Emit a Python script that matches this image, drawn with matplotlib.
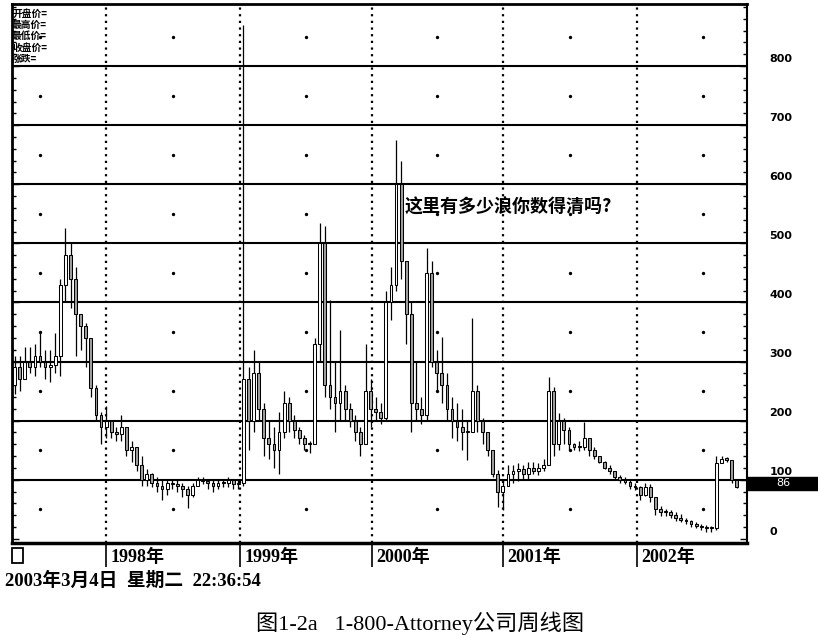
import numpy as np
import matplotlib
matplotlib.use("Agg")
import matplotlib.pyplot as plt
from matplotlib.patches import Rectangle
from matplotlib.transforms import ScaledTranslation, blended_transform_factory

plt.rcParams['font.family'] = ['DejaVu Sans', 'Noto Sans CJK SC']

# weekly bars (one bar per two weeks)
close = [290, 270, 300, 290, 310, 300, 290, 295, 310, 430,
         480, 440, 380, 360, 340, 255, 210, 190, 200, 180,
         178, 190, 150, 155, 125, 100, 110, 95, 90, 85,
         95, 92, 90, 85, 75, 90, 100, 98, 95, 90,
         95, 94, 100, 92, 95, 270, 200, 280, 220, 170,
         160, 150, 180, 230, 200, 185, 170, 160, 160, 330,
         500, 260, 240, 230, 250, 220, 200, 180, 160, 250,
         220, 215, 205, 400, 430, 600, 470, 380, 230, 220,
         210, 450, 300, 280, 260, 220, 200, 190, 180, 180,
         250, 200, 180, 150, 110, 80, 90, 110, 115, 118,
         110, 120, 115, 120, 125, 250, 160, 200, 185, 160,
         155, 155, 170, 150, 140, 130, 120, 115, 105, 100,
         96, 90, 88, 75, 88, 70, 50, 45, 45, 40,
         35, 32, 30, 25, 22, 20, 18, 18, 128, 135,
         134, 100, 88]
high = [310, 310, 325, 325, 330, 350, 320, 320, 348, 440,
        526, 500, 460, 380, 365, 340, 260, 215, 225, 200,
        190, 210, 175, 165, 150, 140, 118, 112, 105, 100,
        100, 102, 100, 95, 90, 95, 105, 104, 100, 100,
        102, 100, 104, 100, 100, 870, 290, 320, 300, 230,
        200, 190, 215, 250, 240, 210, 190, 175, 165, 340,
        534, 530, 404, 300, 353, 260, 230, 210, 190, 330,
        270, 240, 230, 420, 460, 675, 640, 470, 400, 300,
        240, 492, 470, 320, 341, 280, 240, 230, 220, 200,
        373, 260, 205, 180, 150, 117, 100, 125, 125, 128,
        125, 130, 130, 128, 135, 274, 257, 213, 205, 190,
        162, 165, 198, 170, 155, 140, 132, 125, 115, 108,
        104, 100, 95, 90, 95, 92, 70, 55, 50, 48,
        45, 42, 36, 32, 28, 25, 24, 22, 140, 140,
        138, 134, 100]
low = [245, 250, 270, 280, 275, 290, 270, 265, 280, 275,
       400, 390, 310, 320, 290, 240, 200, 160, 170, 170,
       165, 165, 140, 130, 115, 90, 90, 88, 80, 65,
       75, 85, 80, 70, 52, 70, 90, 92, 85, 80,
       85, 88, 88, 85, 85, 90, 150, 180, 200, 140,
       135, 120, 110, 170, 180, 170, 160, 150, 145, 160,
       300, 240, 220, 180, 200, 200, 190, 165, 140, 160,
       190, 200, 195, 200, 370, 420, 440, 330, 180, 200,
       195, 200, 290, 250, 230, 200, 170, 165, 150, 134,
       180, 180, 160, 140, 105, 54, 49, 90, 95, 98,
       100, 100, 110, 108, 115, 125, 140, 150, 160, 150,
       150, 148, 150, 140, 135, 128, 118, 110, 100, 95,
       92, 85, 82, 65, 72, 62, 40, 38, 38, 35,
       30, 28, 25, 20, 18, 15, 12, 12, 15, 128,
       130, 95, 86]

year_pos = [37, 89.6, 141.5, 193, 245.7]
year_labels = ['1998年', '1999年', '2000年', '2001年', '2002年']
mid_pos = [11, 63.3, 115.6, 167, 219.3, 271.6]
last_price = 86

close = np.array(close, dtype=float)
opens = np.r_[close[0] - 30, close[:-1]]
high = np.maximum(np.array(high, dtype=float), np.maximum(opens, close))
low = np.minimum(np.array(low, dtype=float), np.minimum(opens, close))
x = np.arange(len(close)) * 2 + 1

fig = plt.figure(figsize=(8.18, 6.35), dpi=100)
ax = fig.add_axes([0.0147, 0.1449, 0.8985, 0.8488])
ax.set_xlim(0, 289)
ax.set_ylim(-7, 905)

# grid
ax.hlines(range(100, 900, 100), 0, 289, color='black', lw=1.5, zorder=1)
ax.vlines(year_pos, -7, 905, color='black', lw=1.6, linestyles=(0, (1, 2)), zorder=1)
gx, gy = np.meshgrid(mid_pos, range(50, 900, 100))
ax.scatter(gx.ravel(), gy.ravel(), s=2, color='black', zorder=1)

# candles
ax.vlines(x, low, high, color='black', lw=0.9, zorder=2)
up = close >= opens
body_bot = np.minimum(opens, close)
body_h = np.maximum(np.abs(close - opens), 2)
ax.bar(x[up], body_h[up], bottom=body_bot[up], width=1.1,
       facecolor='white', edgecolor='black', lw=0.75, zorder=3)
ax.bar(x[~up], body_h[~up], bottom=body_bot[~up], width=1.1,
       facecolor='#a0a0a0', edgecolor='black', lw=0.75, zorder=3)

# axes styling
for s in ['top', 'left']:
    ax.spines[s].set_linewidth(2)
ax.spines['right'].set_linewidth(1.5)
ax.spines['bottom'].set_linewidth(2.5)

ax.set_yticks(range(0, 900, 100))
ax.set_yticks(range(0, 905, 20), minor=True)
ax.tick_params(axis='y', which='both', left=True, right=True, labelleft=False,
               labelright=True, direction='in', width=1)
ax.tick_params(axis='y', which='major', length=5, pad=16, labelsize=8)
ax.tick_params(axis='y', which='minor', length=3)
for lab in ax.get_yticklabels():
    lab.set_fontweight('bold')
    lab.set_transform(lab.get_transform() + ScaledTranslation(0, 6 / 72, fig.dpi_scale_trans))

ax.set_xticks(year_pos)
ax.set_xticklabels(year_labels, family=['Liberation Serif', 'Noto Sans CJK SC'],
                   fontsize=13, fontweight='bold', ha='left')
ax.tick_params(axis='x', direction='out', length=17, width=1.2, pad=2)
for lab in ax.get_xticklabels():
    lab.set_transform(lab.get_transform() + ScaledTranslation(3 / 72, 15 / 72, fig.dpi_scale_trans))

# last price box
bt = blended_transform_factory(ax.transAxes, ax.transData)
ax.add_patch(Rectangle((1.0, 83), 0.1, 22, transform=bt, facecolor='black',
                       edgecolor='black', clip_on=False, zorder=6))
ax.text(1.05, 94, str(last_price), transform=bt, color='white', fontsize=8,
        ha='center', va='center', zorder=7, clip_on=False)

# info lines top-left
for i, t in enumerate(['开盘价=', '最高价=', '最低价=', '收盘价=', '涨跌=']):
    ax.text(0.005, 897 - i * 19, t, fontsize=7, fontweight='bold', va='top',
            family=['Noto Sans CJK SC'])

ax.text(0.5345, 562, '这里有多少浪你数得清吗?', transform=bt, fontsize=13,
        fontweight='bold', family=['Noto Sans CJK SC'], va='center')

fig.patches.append(Rectangle((12 / 818, 1 - 563 / 635), 11 / 818, 15 / 635,
                             transform=fig.transFigure, fill=False, lw=1.3,
                             edgecolor='black'))
fig.text(5 / 818, 1 - 581 / 635, '2003年3月4日  星期二  22:36:54',
         family=['Liberation Serif', 'Noto Sans CJK SC'], fontsize=13.5,
         fontweight='bold', va='center')
fig.text(420 / 818, 1 - 623 / 635, '图1-2a   1-800-Attorney公司周线图',
         family=['Liberation Serif', 'Noto Sans CJK SC'], fontsize=16,
         ha='center', va='center')

fig.savefig('out.png', dpi=100)
